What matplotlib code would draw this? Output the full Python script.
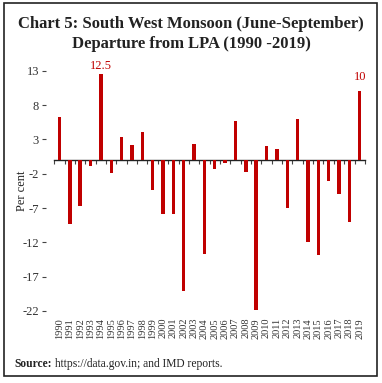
import matplotlib.pyplot as plt
from matplotlib.patches import Rectangle

years = list(range(1990, 2020))
departure = [6.2, -9.3, -6.7, -0.9, 12.5, -1.9, 3.4, 2.2, 4.0, -4.4,
             -7.9, -7.9, -19.1, 2.3, -13.7, -1.3, -0.4, 5.7, -1.7, -21.8,
             2.0, 1.6, -7.0, 6.0, -12.0, -13.9, -3.0, -5.0, -9.0, 10.0]
yticks = [13, 8, 3, -2, -7, -12, -17, -22]
labelled = {1994: '12.5', 2019: '10'}

RED = '#C00000'
plt.rcParams['font.family'] = ['Liberation Serif', 'DejaVu Serif']

fig = plt.figure(figsize=(3.82, 3.83), dpi=100)
ax = fig.add_axes([0.1204, 0.188, 0.8348, 0.6274])

x = list(range(len(years)))
ax.bar(x, departure, width=0.33, color=RED, zorder=3)

ax.set_ylim(-22, 13)
ax.set_xlim(-1.3, 29.5)
ax.set_yticks(yticks)
ax.set_yticklabels([str(t) for t in yticks], fontsize=9, color='#333333')
ax.tick_params(axis='y', length=3, width=0.8, color='#444444', pad=2)
ax.set_ylabel('Per cent', fontsize=9, color='#222222', va='center')
ax.yaxis.set_label_coords(-0.075, 0.5)

ax.set_xticks(x)
ax.set_xticklabels([str(y) for y in years], rotation=90, fontsize=7.5, color='#333333')
ax.tick_params(axis='x', length=0, pad=5)
for s in ax.spines.values():
    s.set_visible(False)

# zero line with category separators
zero = ax.secondary_xaxis(0, transform=ax.transData)
zero.set_xticks([i - 0.5 for i in range(len(years) + 1)])
zero.set_xticklabels([])
zero.tick_params(axis='x', length=3, width=0.8, color='#444444', direction='out')
zero.spines['bottom'].set_bounds(-0.5, 29.5)
zero.spines['bottom'].set_color('#222222')
zero.spines['bottom'].set_linewidth(1.0)

offsets = {1994: 1.5, 2019: 6}
for yr, txt in labelled.items():
    i = years.index(yr)
    ax.annotate(txt, (i, departure[i]), xytext=(0, offsets[yr]), textcoords='offset points',
                ha='center', va='bottom', fontsize=9, color=RED, annotation_clip=False)

fig.text(0.5, 0.937, 'Chart 5: South West Monsoon (June-September)', ha='center', va='center',
         fontsize=12, fontweight='bold', color='#222222')
fig.text(0.5, 0.885, 'Departure from LPA (1990 -2019)', ha='center', va='center',
         fontsize=12, fontweight='bold', color='#222222')

t = fig.text(0.037, 0.05, 'Source:', ha='left', va='center', fontsize=8.3, fontweight='bold', color='#222222')
fig.canvas.draw()
bb = t.get_window_extent()
fig.text(bb.x1 / fig.bbox.width + 0.008, 0.05, 'https://data.gov.in; and IMD reports.',
         ha='left', va='center', fontsize=8.3, color='#222222')

fig.patches.append(Rectangle((0.0105, 0.0183), 0.976, 0.974, transform=fig.transFigure,
                             fill=False, edgecolor='#222222', linewidth=1.2))

fig.savefig('out.png', dpi=100)
